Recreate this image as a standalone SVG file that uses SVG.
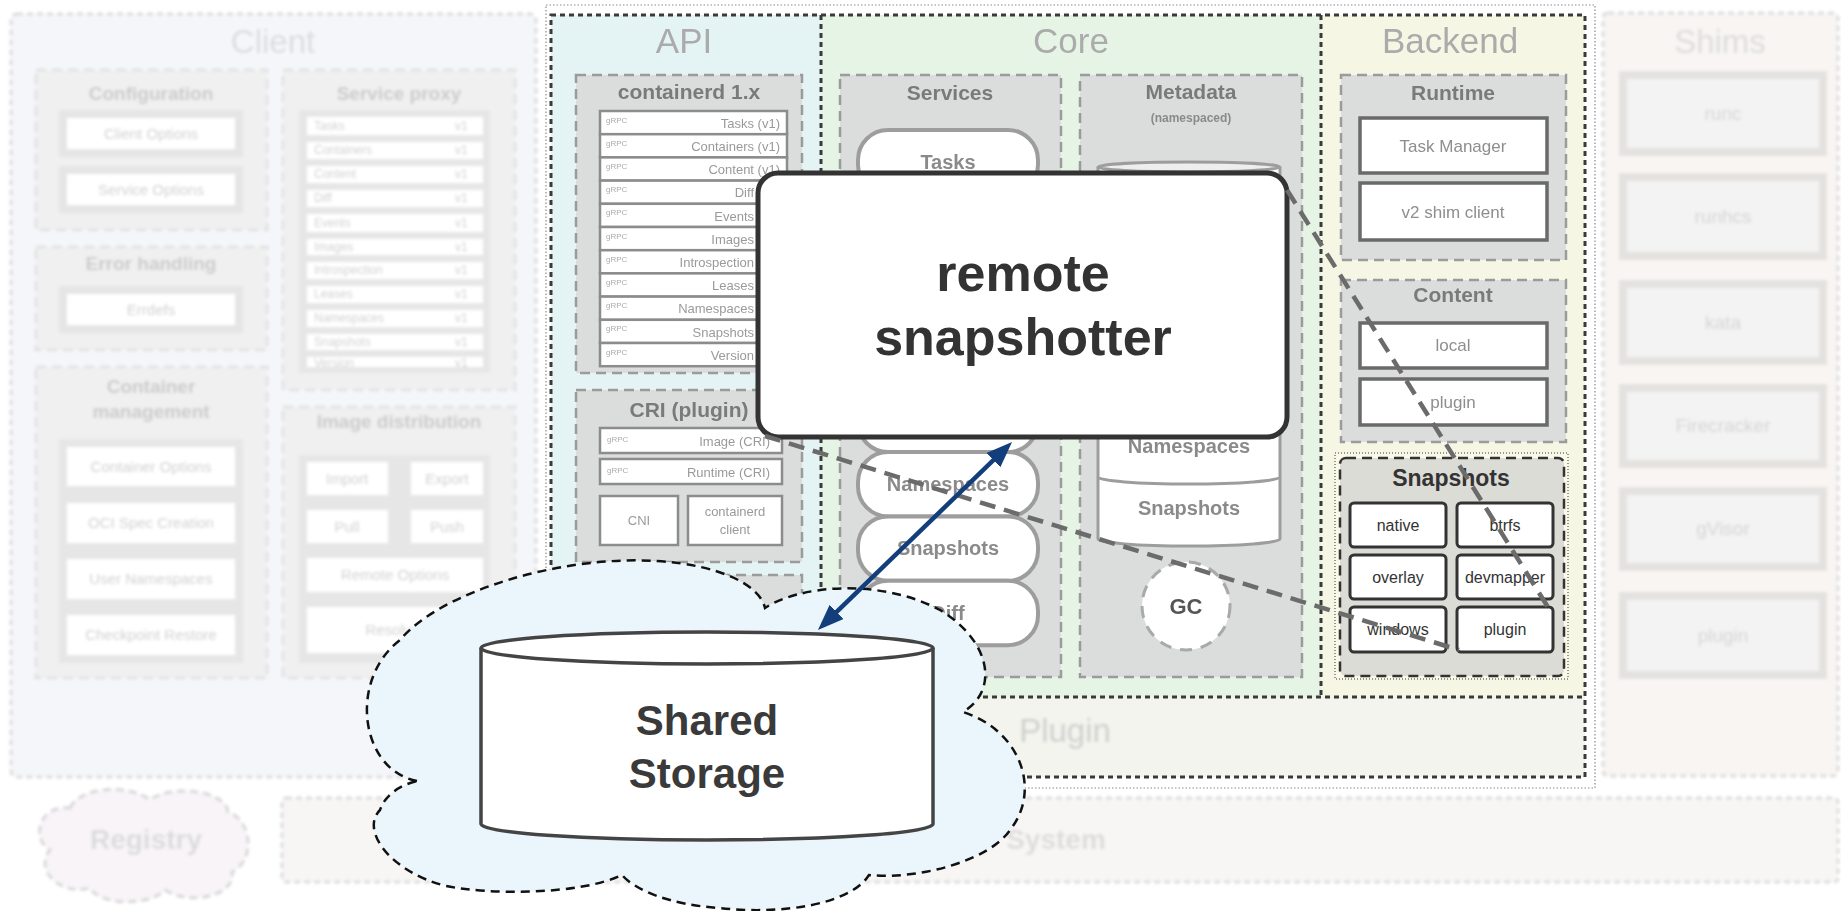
<svg xmlns="http://www.w3.org/2000/svg" width="1841" height="911" viewBox="0 0 1841 911">
<defs>
<style>
text{font-family:"Liberation Sans",Arial,sans-serif}
.fz{fill:#f0f0f0;stroke:#e2e2e2;stroke-width:3;stroke-dasharray:10 6}
.fi{fill:#fff;stroke:#e5e5e5;stroke-width:8}
.fl{fill:#e6e6e6}
.fw{fill:#fff}
.ft{fill:#cfcfcf;font-size:15px;text-anchor:middle}
.fs{fill:#cfcfcf;font-size:12px}
.fh{fill:#cacaca;font-size:19px;font-weight:bold;text-anchor:middle}
.col{font-size:35px;text-anchor:middle;fill:#ababab}
.colf{font-size:33px;text-anchor:middle;fill:#dcdcdc}
.gz{fill:#dadddb;stroke:#9b9b9b;stroke-width:2.5;stroke-dasharray:10 6}
.gi{fill:#fff;stroke:#6a6a6a;stroke-width:3.5}
.gh{fill:#7a7a7a;font-size:21px;font-weight:bold;text-anchor:middle}
.gt{fill:#8e8e8e;font-size:17px;text-anchor:middle}
.lr{fill:#fff;stroke:#8c8c8c;stroke-width:2.5}
.lt{fill:#9a9a9a;font-size:13px;text-anchor:end}
.lc{fill:#9a9a9a;font-size:13px;text-anchor:middle}
.ic{fill:#ababab;font-size:8px}
.pill{fill:#fff;stroke:#9d9d9d;stroke-width:4}
.pt{fill:#8a8a8a;font-size:20px;font-weight:bold;text-anchor:middle}
.cy{fill:#fff;stroke:#9d9d9d;stroke-width:3}
.sb{fill:#fff;stroke:#333;stroke-width:3}
.st{fill:#333;font-size:16px;text-anchor:middle}
.dk{fill:none;stroke:#3a3a3a;stroke-width:3;stroke-dasharray:5 4}
.conn{fill:none;stroke:#6b6b6b;stroke-width:4.5;stroke-dasharray:16 9}
.sh{fill:#f3f3f3;stroke:#e4e2e0;stroke-width:8}
.sht{fill:#d4d4d4;font-size:19px;text-anchor:middle}
</style>
<filter id="fade" x="-5%" y="-5%" width="110%" height="110%"><feGaussianBlur stdDeviation="1.6"/></filter>
<filter id="soft" x="-5%" y="-5%" width="110%" height="110%"><feGaussianBlur stdDeviation="0.7"/></filter>
<marker id="ah" viewBox="0 0 26 20" markerWidth="26" markerHeight="20" refX="18" refY="10" orient="auto-start-reverse" markerUnits="userSpaceOnUse">
<path d="M0,0 L26,10 L0,20 Z" fill="#123f7c"/>
</marker>
</defs>
<rect x="0" y="0" width="1841" height="911" fill="#fff"/>

<g id="client" filter="url(#fade)">
<rect x="11" y="14" width="525" height="763" rx="6" fill="#f5f6fa" stroke="#dcdcdc" stroke-width="3" stroke-dasharray="6 4"/>
<text class="colf" x="273" y="53">Client</text>
<g id="configuration">
<rect class="fz" x="36" y="70" width="231" height="160"/>
<text class="fh" x="151" y="100">Configuration</text>
<rect class="fi" x="63" y="114" width="176" height="39"/>
<text class="ft" x="151" y="139">Client Options</text>
<rect class="fi" x="63" y="170" width="176" height="39"/>
<text class="ft" x="151" y="195">Service Options</text>
</g>
<g id="error-handling">
<rect class="fz" x="36" y="247" width="231" height="103"/>
<text class="fh" x="151" y="270">Error handling</text>
<rect class="fi" x="63" y="290" width="176" height="39"/>
<text class="ft" x="151" y="315">Errdefs</text>
</g>
<g id="container-management">
<rect class="fz" x="36" y="367" width="231" height="311"/>
<text class="fh" x="151" y="393">Container</text>
<text class="fh" x="151" y="418">management</text>
<rect class="fl" x="59" y="439" width="184" height="224"/>
<rect class="fw" x="67" y="447" width="168" height="39"/>
<text class="ft" x="151" y="472">Container Options</text>
<rect class="fw" x="67" y="503" width="168" height="40"/>
<text class="ft" x="151" y="528">OCI Spec Creation</text>
<rect class="fw" x="67" y="559" width="168" height="40"/>
<text class="ft" x="151" y="584">User Namespaces</text>
<rect class="fw" x="67" y="615" width="168" height="40"/>
<text class="ft" x="151" y="640">Checkpoint Restore</text>
</g>
<g id="service-proxy">
<rect class="fz" x="283" y="70" width="232" height="320"/>
<text class="fh" x="399" y="100">Service proxy</text>
<rect class="fl" x="299" y="110" width="191" height="263"/>
<rect class="fw" x="307" y="117" width="176" height="18"/><text class="fs" x="314" y="130">Tasks</text><text class="fs" x="455" y="130">v1</text>
<rect class="fw" x="307" y="142" width="176" height="17"/><text class="fs" x="314" y="154">Containers</text><text class="fs" x="455" y="154">v1</text>
<rect class="fw" x="307" y="166" width="176" height="17"/><text class="fs" x="314" y="178">Content</text><text class="fs" x="455" y="178">v1</text>
<rect class="fw" x="307" y="190" width="176" height="17"/><text class="fs" x="314" y="202">Diff</text><text class="fs" x="455" y="202">v1</text>
<rect class="fw" x="307" y="214" width="176" height="18"/><text class="fs" x="314" y="227">Events</text><text class="fs" x="455" y="227">v1</text>
<rect class="fw" x="307" y="239" width="176" height="16"/><text class="fs" x="314" y="251">Images</text><text class="fs" x="455" y="251">v1</text>
<rect class="fw" x="307" y="262" width="176" height="17"/><text class="fs" x="314" y="274">Introspection</text><text class="fs" x="455" y="274">v1</text>
<rect class="fw" x="307" y="286" width="176" height="17"/><text class="fs" x="314" y="298">Leases</text><text class="fs" x="455" y="298">v1</text>
<rect class="fw" x="307" y="310" width="176" height="17"/><text class="fs" x="314" y="322">Namespaces</text><text class="fs" x="455" y="322">v1</text>
<rect class="fw" x="307" y="334" width="176" height="16"/><text class="fs" x="314" y="346">Snapshots</text><text class="fs" x="455" y="346">v1</text>
<rect class="fw" x="307" y="357" width="176" height="10"/><text class="fs" x="314" y="367">Version</text><text class="fs" x="455" y="367">v1</text>
</g>
<g id="image-distribution">
<rect class="fz" x="283" y="407" width="232" height="271"/>
<text class="fh" x="399" y="428">Image distribution</text>
<rect class="fl" x="299" y="455" width="191" height="208"/>
<rect class="fw" x="307" y="462" width="81" height="33"/><text class="ft" x="347" y="484">Import</text>
<rect class="fw" x="411" y="462" width="72" height="33"/><text class="ft" x="447" y="484">Export</text>
<rect class="fw" x="307" y="510" width="81" height="33"/><text class="ft" x="347" y="532">Pull</text>
<rect class="fw" x="411" y="510" width="72" height="33"/><text class="ft" x="447" y="532">Push</text>
<rect class="fw" x="307" y="558" width="176" height="34"/><text class="ft" x="395" y="580">Remote Options</text>
<rect class="fw" x="307" y="607" width="176" height="46"/><text class="ft" x="395" y="635">Resolver</text>
</g>
</g>

<g id="shims" filter="url(#fade)">
<rect x="1603" y="13" width="235" height="763" rx="5" fill="#f8f5f3" stroke="#dcdcdc" stroke-width="3" stroke-dasharray="6 4"/>
<text class="colf" x="1720" y="53">Shims</text>
<rect class="sh" x="1623" y="75" width="200" height="77"/><text class="sht" x="1723" y="120">runc</text>
<rect class="sh" x="1623" y="177" width="200" height="79"/><text class="sht" x="1723" y="223">runhcs</text>
<rect class="sh" x="1623" y="284" width="200" height="77"/><text class="sht" x="1723" y="329">kata</text>
<rect class="sh" x="1623" y="388" width="200" height="76"/><text class="sht" x="1723" y="432">Firecracker</text>
<rect class="sh" x="1623" y="491" width="200" height="76"/><text class="sht" x="1723" y="535">gVisor</text>
<rect class="sh" x="1623" y="596" width="200" height="79"/><text class="sht" x="1723" y="642">plugin</text>
</g>

<g id="system" filter="url(#fade)">
<rect x="282" y="798" width="1556" height="84" rx="4" fill="#f8f6f5" stroke="#dcdcdc" stroke-width="3" stroke-dasharray="6 4"/>
<text x="1056" y="849" font-size="28" font-weight="bold" fill="#dcdcdc" text-anchor="middle">System</text>
</g>

<g id="registry" filter="url(#fade)">
<path d="M70,808 C80,786 130,784 150,800 C170,784 226,790 228,812 C252,820 256,860 232,872 C236,896 190,906 165,890 C150,906 100,906 90,888 C60,896 34,870 50,850 C30,838 40,804 70,808 Z" fill="#f8f4f8" stroke="#d8d8d8" stroke-width="3" stroke-dasharray="8 5"/>
<text x="146" y="849" font-size="28" font-weight="bold" fill="#dcdcdc" text-anchor="middle">Registry</text>
</g>

<g id="plugin-area">
<rect x="546" y="5" width="1049" height="783" fill="none" stroke="#8a8a8a" stroke-width="1.2" stroke-dasharray="1.5 2"/>
<rect x="551" y="15" width="270" height="682" fill="#e4f4f5"/>
<rect x="821" y="15" width="500" height="682" fill="#e6f4e6"/>
<rect x="1321" y="15" width="264" height="682" fill="#f6f6e4"/>
<rect x="551" y="697" width="1034" height="80" fill="#f3f4ed"/>
<rect class="dk" x="551" y="15" width="1034" height="762"/>
<path class="dk" d="M821,15 V697 M1321,15 V697 M551,697 H1585"/>
<text x="1065" y="742" font-size="33" fill="#cfcfcf" text-anchor="middle" filter="url(#fade)">Plugin</text>
</g>

<g id="api" filter="url(#soft)">
<text class="col" x="684" y="53">API</text>
<g id="containerd-1x">
<rect class="gz" x="576" y="75" width="226" height="298"/>
<text class="gh" x="689" y="99" font-size="19">containerd 1.x</text>
<rect class="lr" x="600" y="111" width="187" height="23.2"/><text class="ic" x="606" y="123">gRPC</text><text class="lt" x="780" y="128">Tasks (v1)</text>
<rect class="lr" x="600" y="134.2" width="187" height="23.2"/><text class="ic" x="606" y="146">gRPC</text><text class="lt" x="780" y="151">Containers (v1)</text>
<rect class="lr" x="600" y="157.4" width="187" height="23.2"/><text class="ic" x="606" y="169">gRPC</text><text class="lt" x="780" y="174">Content (v1)</text>
<rect class="lr" x="600" y="180.6" width="187" height="23.2"/><text class="ic" x="606" y="192">gRPC</text><text class="lt" x="780" y="197">Diff (v1)</text>
<rect class="lr" x="600" y="203.8" width="187" height="23.2"/><text class="ic" x="606" y="215">gRPC</text><text class="lt" x="780" y="221">Events (v1)</text>
<rect class="lr" x="600" y="227" width="187" height="23.2"/><text class="ic" x="606" y="239">gRPC</text><text class="lt" x="780" y="244">Images (v1)</text>
<rect class="lr" x="600" y="250.2" width="187" height="23.2"/><text class="ic" x="606" y="262">gRPC</text><text class="lt" x="780" y="267">Introspection (v1)</text>
<rect class="lr" x="600" y="273.4" width="187" height="23.2"/><text class="ic" x="606" y="285">gRPC</text><text class="lt" x="780" y="290">Leases (v1)</text>
<rect class="lr" x="600" y="296.6" width="187" height="23.2"/><text class="ic" x="606" y="308">gRPC</text><text class="lt" x="780" y="313">Namespaces (v1)</text>
<rect class="lr" x="600" y="319.8" width="187" height="23.2"/><text class="ic" x="606" y="331">gRPC</text><text class="lt" x="780" y="337">Snapshots (v1)</text>
<rect class="lr" x="600" y="343" width="187" height="23.2"/><text class="ic" x="606" y="355">gRPC</text><text class="lt" x="780" y="360">Version (v1)</text>
</g>
<g id="cri-plugin">
<rect class="gz" x="576" y="390" width="226" height="172"/>
<text class="gh" x="689" y="417" font-size="19">CRI (plugin)</text>
<rect class="lr" x="600" y="428" width="182" height="25"/><text class="ic" x="607" y="442">gRPC</text><text class="lt" x="770" y="446">Image (CRI)</text>
<rect class="lr" x="600" y="459" width="182" height="25"/><text class="ic" x="607" y="473">gRPC</text><text class="lt" x="770" y="477">Runtime (CRI)</text>
<rect class="lr" x="600" y="496" width="78" height="49"/><text class="lc" x="639" y="525">CNI</text>
<rect class="lr" x="688" y="496" width="94" height="49"/><text class="lc" x="735" y="516">containerd</text><text class="lc" x="735" y="534">client</text>
</g>
<g id="api-more">
<rect class="gz" x="576" y="575" width="226" height="110"/>
</g>
</g>

<g id="core" filter="url(#soft)">
<text class="col" x="1071" y="53">Core</text>
<g id="services">
<rect class="gz" x="840" y="75" width="221" height="602"/>
<text class="gh" x="950" y="100">Services</text>
<rect class="pill" x="858" y="130" width="180" height="64.4" rx="30"/><text class="pt" x="948" y="169">Tasks</text>
<rect class="pill" x="858" y="194.4" width="180" height="64.4" rx="30"/>
<rect class="pill" x="858" y="258.8" width="180" height="64.4" rx="30"/>
<rect class="pill" x="858" y="323.2" width="180" height="64.4" rx="30"/>
<rect class="pill" x="858" y="387.6" width="180" height="64.4" rx="30"/>
<rect class="pill" x="858" y="452" width="180" height="64.4" rx="30"/><text class="pt" x="948" y="491">Namespaces</text>
<rect class="pill" x="858" y="516.4" width="180" height="64.4" rx="30"/><text class="pt" x="948" y="555">Snapshots</text>
<rect class="pill" x="858" y="580.8" width="180" height="64.4" rx="30"/><text class="pt" x="948" y="620">Diff</text>
</g>
<g id="metadata">
<rect class="gz" x="1080" y="75" width="222" height="602"/>
<text class="gh" x="1191" y="99">Metadata</text>
<text x="1191" y="122" font-size="12" font-weight="bold" fill="#8a8a8a" text-anchor="middle">(namespaced)</text>
<path class="cy" d="M1098,167 V539 A91,7 0 0 0 1280,539 V167"/>
<ellipse cx="1189" cy="167" rx="91" ry="5" fill="#eeeeee" stroke="#9d9d9d" stroke-width="3"/>
<path fill="none" stroke="#9d9d9d" stroke-width="3" d="M1098,229 A91,7 0 0 0 1280,229 M1098,291 A91,7 0 0 0 1280,291 M1098,353 A91,7 0 0 0 1280,353 M1098,415 A91,7 0 0 0 1280,415 M1098,477 A91,7 0 0 0 1280,477"/>
<text class="pt" x="1189" y="453">Namespaces</text>
<text class="pt" x="1189" y="515">Snapshots</text>
<g id="gc">
<circle cx="1186" cy="606" r="44" fill="#fff" stroke="#a9a9a9" stroke-width="3" stroke-dasharray="12 9"/>
<text x="1186" y="614" font-size="22" font-weight="bold" fill="#555" text-anchor="middle">GC</text>
</g>
</g>
</g>

<g id="backend">
<g filter="url(#soft)">
<text class="col" x="1450" y="53">Backend</text>
<g id="runtime">
<rect class="gz" x="1341" y="75" width="225" height="185"/>
<text class="gh" x="1453" y="100">Runtime</text>
<rect class="gi" x="1360" y="118" width="187" height="55"/><text class="gt" x="1453" y="152">Task Manager</text>
<rect class="gi" x="1360" y="183" width="187" height="57"/><text class="gt" x="1453" y="218">v2 shim client</text>
</g>
<g id="content">
<rect class="gz" x="1341" y="280" width="225" height="162"/>
<text class="gh" x="1453" y="302">Content</text>
<rect class="gi" x="1360" y="323" width="187" height="45"/><text class="gt" x="1453" y="351">local</text>
<rect class="gi" x="1360" y="379" width="187" height="46"/><text class="gt" x="1453" y="408">plugin</text>
</g>
</g>
<g id="snapshots">
<rect x="1335" y="453" width="233" height="226" fill="#faf8e6" stroke="#777" stroke-width="1.5" stroke-dasharray="1 2"/>
<rect x="1340" y="458" width="224" height="218" rx="6" fill="#dcdcd7" stroke="#333" stroke-width="2.5" stroke-dasharray="10 6"/>
<text x="1451" y="486" font-size="23" font-weight="bold" fill="#333" text-anchor="middle">Snapshots</text>
<rect class="sb" x="1350" y="503" width="96" height="44" rx="4"/><text class="st" x="1398" y="531">native</text>
<rect class="sb" x="1457" y="503" width="96" height="44" rx="4"/><text class="st" x="1505" y="531">btrfs</text>
<rect class="sb" x="1350" y="555" width="96" height="44" rx="4"/><text class="st" x="1398" y="583">overlay</text>
<rect class="sb" x="1457" y="555" width="96" height="44" rx="4"/><text class="st" x="1505" y="583">devmapper</text>
<rect class="sb" x="1350" y="607" width="96" height="45" rx="4"/><text class="st" x="1398" y="635">windows</text>
<rect class="sb" x="1457" y="607" width="96" height="45" rx="4"/><text class="st" x="1505" y="635">plugin</text>
</g>
</g>

<g id="remote-snapshotter">
<rect x="758" y="173" width="529" height="264" rx="20" fill="#fff" stroke="#333" stroke-width="5"/>
<text x="1023" y="291" font-size="52" font-weight="bold" fill="#333" text-anchor="middle">remote</text>
<text x="1023" y="355" font-size="52" font-weight="bold" fill="#333" text-anchor="middle">snapshotter</text>
</g>

<g id="shared-storage">
<path d="M417,781 C360,770 348,680 400,640 C440,592 560,555 657,561 C720,565 760,585 765,608 C800,585 880,578 940,610 C990,640 1000,690 963,712 C1020,730 1042,790 1010,830 C990,860 920,880 869,875 C850,905 780,915 720,908 C670,905 635,890 622,875 C580,895 490,895 446,886 C390,872 360,830 380,810 C385,795 400,785 417,781 Z" fill="#eaf6fc" stroke="#111" stroke-width="2.5" stroke-dasharray="9 6"/>
<path d="M481,648 V824 A226,16 0 0 0 933,824 V648 A226,16 0 0 0 481,648 Z" fill="#fff" stroke="#444" stroke-width="3.5"/>
<path d="M481,648 A226,16 0 0 0 933,648" fill="none" stroke="#444" stroke-width="3.5"/>
<text x="707" y="735" font-size="42" font-weight="bold" fill="#3a3a3a" text-anchor="middle">Shared</text>
<text x="707" y="788" font-size="42" font-weight="bold" fill="#3a3a3a" text-anchor="middle">Storage</text>
</g>

<g id="connectors">
<path class="conn" d="M1287,190 L1551,612"/>
<path class="conn" d="M765,436 L1459,650"/>
<path d="M823.7,624.4 L1006.3,447.6" fill="none" stroke="#123f7c" stroke-width="4.5" marker-start="url(#ah)" marker-end="url(#ah)"/>
</g>
</svg>
